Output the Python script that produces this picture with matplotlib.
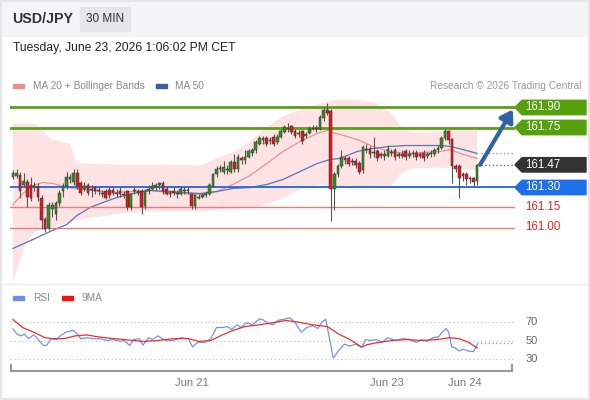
import matplotlib
matplotlib.use("Agg")
import matplotlib.pyplot as plt
from matplotlib.patches import Rectangle, Polygon
from matplotlib.transforms import blended_transform_factory

plt.rcParams['font.family'] = ['Liberation Sans', 'DejaVu Sans']

# 30 min candles, USD/JPY
opens = [161.38, 161.39, 161.39, 161.32, 161.34, 161.32, 161.30, 161.30, 161.22, 161.06,
         161.00, 161.14, 161.10, 161.18, 161.27, 161.31, 161.36, 161.34, 161.41, 161.33,
         161.29, 161.32, 161.29, 161.30, 161.28, 161.26, 161.27, 161.28, 161.28, 161.26,
         161.27, 161.25, 161.27, 161.15, 161.27, 161.27, 161.27, 161.16, 161.27, 161.29,
         161.30, 161.32, 161.33, 161.29, 161.26, 161.27, 161.26, 161.25, 161.27, 161.28,
         161.25, 161.16, 161.22, 161.23, 161.24, 161.25, 161.31, 161.40, 161.44, 161.42,
         161.44, 161.42, 161.49, 161.44, 161.52, 161.51, 161.53, 161.56, 161.58, 161.63,
         161.66, 161.67, 161.65, 161.68, 161.64, 161.68, 161.72, 161.74, 161.76, 161.72,
         161.70, 161.72, 161.69, 161.71, 161.74, 161.75, 161.74, 161.82, 161.88, 161.87,
         161.29, 161.40, 161.46, 161.52, 161.52, 161.50, 161.50, 161.48, 161.43, 161.58,
         161.59, 161.56, 161.57, 161.55, 161.54, 161.54, 161.57, 161.58, 161.54, 161.55,
         161.57, 161.54, 161.55, 161.56, 161.55, 161.56, 161.54, 161.55, 161.55, 161.58,
         161.60, 161.67, 161.72, 161.66, 161.46, 161.46, 161.40, 161.40, 161.37, 161.37,
         161.35]
highs = [161.43, 161.44, 161.42, 161.41, 161.36, 161.38, 161.34, 161.33, 161.24, 161.08,
         161.19, 161.19, 161.20, 161.28, 161.33, 161.42, 161.40, 161.44, 161.44, 161.35,
         161.34, 161.33, 161.32, 161.31, 161.30, 161.28, 161.29, 161.30, 161.30, 161.29,
         161.30, 161.27, 161.28, 161.26, 161.30, 161.29, 161.29, 161.29, 161.32, 161.34,
         161.33, 161.34, 161.35, 161.30, 161.28, 161.30, 161.28, 161.31, 161.30, 161.30,
         161.26, 161.25, 161.25, 161.26, 161.27, 161.33, 161.41, 161.46, 161.47, 161.50,
         161.47, 161.51, 161.55, 161.55, 161.54, 161.58, 161.59, 161.60, 161.66, 161.69,
         161.69, 161.69, 161.68, 161.70, 161.70, 161.74, 161.77, 161.78, 161.77, 161.74,
         161.73, 161.73, 161.72, 161.76, 161.77, 161.77, 161.84, 161.90, 161.93, 161.89,
         161.42, 161.48, 161.58, 161.54, 161.54, 161.52, 161.52, 161.50, 161.62, 161.63,
         161.61, 161.68, 161.59, 161.57, 161.58, 161.62, 161.59, 161.60, 161.57, 161.58,
         161.59, 161.58, 161.58, 161.58, 161.57, 161.58, 161.57, 161.58, 161.60, 161.62,
         161.69, 161.74, 161.73, 161.67, 161.48, 161.48, 161.42, 161.42, 161.39, 161.38,
         161.48]
lows = [161.36, 161.37, 161.22, 161.30, 161.15, 161.20, 161.27, 161.20, 160.99, 160.97,
        160.98, 161.08, 161.06, 161.16, 161.23, 161.29, 161.33, 161.32, 161.29, 161.24,
        161.27, 161.24, 161.23, 161.25, 161.24, 161.23, 161.21, 161.22, 161.24, 161.23,
        161.23, 161.22, 161.13, 161.13, 161.25, 161.24, 161.10, 161.14, 161.25, 161.28,
        161.28, 161.29, 161.25, 161.24, 161.23, 161.24, 161.22, 161.24, 161.25, 161.25,
        161.14, 161.14, 161.21, 161.22, 161.23, 161.24, 161.30, 161.38, 161.42, 161.40,
        161.40, 161.41, 161.42, 161.42, 161.48, 161.48, 161.52, 161.54, 161.56, 161.62,
        161.63, 161.61, 161.63, 161.61, 161.63, 161.67, 161.71, 161.72, 161.70, 161.67,
        161.68, 161.63, 161.67, 161.70, 161.73, 161.72, 161.73, 161.80, 161.84, 161.05,
        161.13, 161.38, 161.45, 161.48, 161.46, 161.47, 161.45, 161.40, 161.41, 161.56,
        161.52, 161.53, 161.50, 161.52, 161.51, 161.53, 161.54, 161.51, 161.52, 161.52,
        161.51, 161.52, 161.53, 161.51, 161.52, 161.50, 161.52, 161.53, 161.54, 161.56,
        161.59, 161.66, 161.63, 161.33, 161.42, 161.22, 161.35, 161.32, 161.33, 161.31,
        161.32]
closes = [161.41, 161.41, 161.27, 161.35, 161.23, 161.22, 161.31, 161.23, 161.06, 160.99,
          161.17, 161.17, 161.18, 161.26, 161.31, 161.38, 161.38, 161.41, 161.31, 161.26,
          161.31, 161.26, 161.28, 161.27, 161.27, 161.25, 161.22, 161.24, 161.26, 161.25,
          161.25, 161.24, 161.15, 161.25, 161.28, 161.26, 161.15, 161.27, 161.29, 161.31,
          161.32, 161.33, 161.27, 161.25, 161.25, 161.26, 161.25, 161.29, 161.28, 161.27,
          161.16, 161.24, 161.23, 161.24, 161.25, 161.32, 161.40, 161.44, 161.45, 161.45,
          161.43, 161.49, 161.44, 161.53, 161.51, 161.53, 161.57, 161.58, 161.64, 161.67,
          161.67, 161.63, 161.66, 161.63, 161.68, 161.72, 161.75, 161.75, 161.72, 161.69,
          161.71, 161.65, 161.70, 161.74, 161.75, 161.74, 161.83, 161.88, 161.86, 161.29,
          161.40, 161.46, 161.53, 161.51, 161.48, 161.49, 161.47, 161.42, 161.60, 161.59,
          161.55, 161.57, 161.52, 161.54, 161.55, 161.59, 161.56, 161.53, 161.55, 161.54,
          161.53, 161.55, 161.56, 161.53, 161.54, 161.52, 161.55, 161.56, 161.58, 161.60,
          161.67, 161.72, 161.66, 161.46, 161.44, 161.37, 161.39, 161.36, 161.36, 161.34,
          161.47]

# indicators (x in candle index)
bb_up_x = [0, 6.2, 8.1, 10.4, 13.2, 16, 17.4, 18.8, 30, 41.2, 52.4, 55.2, 58, 62.2, 66.4,
           70.6, 75.6, 80.4, 85.2, 89.6, 93, 97.2, 101.4, 105.6, 108.4, 111.2, 115.4, 119.6,
           124.4, 130]
bb_up = [161.78, 161.78, 161.735, 161.668, 161.645, 161.63, 161.51, 161.48, 161.472, 161.472,
         161.465, 161.495, 161.533, 161.57, 161.645, 161.743, 161.833, 161.885, 161.923, 161.953,
         161.96, 161.953, 161.938, 161.87, 161.765, 161.72, 161.713, 161.72, 161.735, 161.735]
bb_lo_x = [0, 2, 3.9, 6.2, 10.4, 14.6, 18.8, 24.4, 30, 35.6, 44, 52.4, 58, 63.6, 69.2, 74.8,
           80.4, 86, 90.2, 94.4, 100, 105.6, 108.4, 111.2, 119.6, 125.2, 130]
bb_lo = [160.595, 160.76, 160.895, 160.97, 161.0, 161.03, 161.06, 161.083, 161.105, 161.12,
         161.12, 161.12, 161.135, 161.143, 161.158, 161.21, 161.285, 161.323, 161.308, 161.293,
         161.293, 161.30, 161.40, 161.44, 161.45, 161.44, 161.43]
ma20_x = [0, 2.8, 5.6, 8.4, 11.2, 15.1, 19.6, 24.4, 29.1, 33.6, 38.4, 43.1, 47.6, 52.4, 57.1,
          61.6, 66.4, 71.1, 75.6, 80.4, 85.2, 88.8, 89.1, 91.6, 96.4, 100.8, 105.6, 110.4,
          114.8, 119.6, 122.4, 126, 130]
ma20 = [161.173, 161.255, 161.315, 161.338, 161.33, 161.30, 161.285, 161.27, 161.263, 161.27,
        161.278, 161.263, 161.255, 161.248, 161.27, 161.323, 161.39, 161.48, 161.57, 161.645,
        161.705, 161.735, 161.713, 161.698, 161.66, 161.608, 161.57, 161.555, 161.563, 161.57,
        161.585, 161.548, 161.518]
ma50_x = [0, 5.6, 10.4, 15.1, 17.9, 21.6, 24.4, 29.1, 33.6, 38.4, 43.1, 47.6, 52.4, 57.1,
          61.6, 66.4, 71.1, 75.6, 80.4, 85.2, 88.8, 91.6, 96.4, 100.8, 105.6, 110.4, 114.8,
          119.6, 122.4, 126, 130]
ma50 = [160.843, 160.91, 160.97, 161.023, 161.09, 161.15, 161.18, 161.225, 161.255, 161.278,
        161.27, 161.263, 161.255, 161.27, 161.293, 161.30, 161.323, 161.36, 161.42, 161.48,
        161.51, 161.518, 161.57, 161.593, 161.608, 161.615, 161.615, 161.615, 161.608, 161.585,
        161.555]

rsi_x = [0, 1.1, 2.2, 3.2, 4.3, 5.8, 6.9, 8.5, 9.5, 10.6, 12.2, 13.2, 14.8, 16.9, 18, 19,
         20.6, 22.2, 24.3, 26.4, 28, 30.1, 31.1, 32.7, 33.8, 35.4, 36.4, 38, 39, 40.6, 42.2,
         43.3, 44.9, 47, 49.1, 50.3, 51.7, 53.8, 55.4, 57, 58.6, 60.1, 61.2, 62.8, 63.8, 65.4,
         67, 69.1, 70.2, 71.2, 72.8, 74.4, 76, 77.5, 79.1, 80.7, 82.3, 83.9, 85.4, 86.5, 87.6,
         89.7, 91.2, 92.8, 94.4, 96, 97.6, 98.8, 100.2, 101.8, 103.4, 104.9, 107.1, 109.2,
         111.3, 112.9, 114.4, 116, 117.6, 119.2, 120.2, 121.3, 122, 122.9, 123.9, 125, 126,
         127.6, 129, 130]
rsi = [62.6, 57, 55, 57, 52, 56, 52, 44.6, 45, 51.8, 51, 55, 59, 61, 57, 51.8,
       53, 52, 52, 50, 51, 49, 50, 44.6, 51, 52, 45, 53, 51, 55, 51,
       50, 50, 53, 52, 43, 48, 48, 52, 64, 64, 65, 62, 67, 64, 69,
       67, 73.4, 72, 69, 67, 72, 73, 74.5, 69, 59, 64, 66, 63, 70, 73,
       31, 39, 46, 44, 46, 42.6, 51, 50, 51, 48, 53, 50, 52,
       51, 48, 51, 49, 53, 54, 59, 63, 59, 43, 42, 38.6, 40.6,
       38.6, 38, 46]
ma9_x = [0, 2.7, 5.8, 9, 11.1, 14.3, 17.4, 20.6, 23.8, 26.9, 31.1, 36.4, 40.6, 44.9, 49.1,
         52.2, 55.4, 58.6, 61.7, 64.9, 69.1, 72.3, 76.5, 79.6, 83.9, 88.1, 91.2, 94.4, 97.6,
         99.2, 101.8, 106, 110.2, 114.4, 118.7, 122.3, 125, 127.6, 130]
ma9 = [72.7, 64, 59, 53, 52, 52, 55, 56, 54, 52.5, 51, 49, 50, 52, 52,
       49, 50, 56, 61, 65, 67, 69, 71.6, 70, 67, 65, 57, 51, 43,
       45.5, 47.5, 50, 51, 50, 51, 53, 52, 48, 42]

resistances = [161.90, 161.75]
pivot = 161.30
supports = [161.15, 161.00]
last_price = 161.47
date_labels = ["Jun 21", "Jun 23", "Jun 24"]
date_pos = [50.1, 104.8, 126.6]

W, H = 590, 400
fig = plt.figure(figsize=(W / 100, H / 100), dpi=100)


def fx(px):
    return px / W


def fy(py):
    return 1 - py / H


# header + frame
fig.patches.append(Rectangle((0, fy(36)), 1, 36 / H, transform=fig.transFigure,
                             color='#f4f5f7', zorder=0))
fig.patches.append(Rectangle((fx(80), fy(31)), 50 / W, 24 / H, transform=fig.transFigure,
                             color='#e5e6e9', zorder=1))
fig.patches.append(Rectangle((0, 0), 1, 1, transform=fig.transFigure, fill=False,
                             edgecolor='#e4e6e9', lw=3, zorder=5))
fig.text(fx(12), fy(19), "USD/JPY", fontsize=10.3, fontweight='bold', color='#333333', va='center')
fig.text(fx(105), fy(19), "30 MIN", fontsize=8.5, color='#333333', va='center', ha='center')
fig.text(fx(13), fy(48), "Tuesday, June 23, 2026 1:06:02 PM CET", fontsize=8.7,
         color='#222222', va='center')

# legends
fig.patches.append(Rectangle((fx(13), fy(88)), 11 / W, 4 / H, transform=fig.transFigure,
                             color='#f38c8c'))
fig.text(fx(33), fy(86), "MA 20 + Bollinger Bands", fontsize=7.3, color='#888888', va='center')
fig.patches.append(Rectangle((fx(156), fy(88)), 11 / W, 4 / H, transform=fig.transFigure,
                             color='#3a5f9e'))
fig.text(fx(175), fy(86), "MA 50", fontsize=7.3, color='#888888', va='center')
fig.text(fx(581), fy(86), "Research \u00a9 2026 Trading Central", fontsize=7.3,
         color='#999999', va='center', ha='right')

fig.patches.append(Rectangle((fx(13), fy(300)), 11 / W, 4 / H, transform=fig.transFigure,
                             color='#6a8de6'))
fig.text(fx(33), fy(298), "RSI", fontsize=7.3, color='#888888', va='center')
fig.patches.append(Rectangle((fx(62), fy(300)), 11 / W, 4 / H, transform=fig.transFigure,
                             color='#ee1111'))
fig.text(fx(82), fy(298), "9MA", fontsize=7.3, color='#888888', va='center')

fig.add_artist(plt.Line2D([0, 1], [fy(284), fy(284)], transform=fig.transFigure,
                          color='#eeeeee', lw=1))

# price panel
xmin, xmax = -0.84, 140.6
ax = fig.add_axes([fx(10), fy(284.5), 505 / W, 188 / H])
ax.set_xlim(xmin, xmax)
ax.set_ylim(160.5725, 161.9825)
ax.axis('off')

ax.fill(bb_up_x + bb_lo_x[::-1], bb_up + bb_lo[::-1], color='#fde3e3', lw=0, zorder=1)
ax.plot(ma20_x, ma20, color='#f29090', lw=0.9, zorder=2)
ax.plot(ma50_x, ma50, color='#5577b2', lw=0.9, zorder=2)

for lvl in resistances:
    ax.axhline(lvl, color='#5aa01a', lw=2, zorder=3)
ax.axhline(pivot, color='#2f6fe2', lw=1.4, zorder=3)
for lvl in supports:
    ax.axhline(lvl, color='#f07a7a', lw=1, zorder=3)

for i in range(len(closes)):
    o, h, l, c = opens[i], highs[i], lows[i], closes[i]
    col = '#3a8a28' if c >= o else '#e0191e'
    ax.vlines(i, l, h, color='#555555', lw=0.8, zorder=4)
    bot = min(o, c)
    hgt = max(abs(c - o), 0.006)
    ax.bar(i, hgt, bottom=bot, width=0.75, color=col, edgecolor='#333333', lw=0.35, zorder=5)

n = len(closes)
ax.plot([n, xmax], [ma50[-1], ma50[-1]], color='#888888', lw=0.9, ls=(0, (1, 2)), zorder=3)
ax.plot([n, xmax], [last_price, last_price], color='#555555', lw=0.9, ls=(0, (1, 2)), zorder=3)

ax.annotate("", xy=(140.0, 161.885), xytext=(130.8, 161.47),
            arrowprops=dict(arrowstyle='-|>,head_length=0.7,head_width=0.45',
                            color='#2f62a8', lw=3, shrinkA=0, shrinkB=0), zorder=6)

tr = blended_transform_factory(ax.transAxes, ax.transData)
hh = 0.054
tip, left, right = 1.0, 1.0139, 1.1406


def tag(level, color, txt_color='white'):
    ax.add_patch(Polygon([[tip, level], [left, level + hh], [right, level + hh],
                          [right, level - hh], [left, level - hh]], closed=True,
                         transform=tr, color=color, clip_on=False, zorder=7))
    ax.text(1.02, level, "%.2f" % level, transform=tr, color=txt_color, fontsize=8.3,
            va='center', ha='left', clip_on=False, zorder=8)


for lvl in resistances:
    tag(lvl, '#55a00c')
tag(last_price, '#333333')
tag(pivot, '#1f6fe8')
for lvl in supports:
    ax.text(1.02, lvl, "%.2f" % lvl, transform=tr, color='#e8242a', fontsize=8.3,
            va='center', ha='left', clip_on=False)

# RSI panel
rax = fig.add_axes([fx(10), fy(370.5), 505 / W, 60 / H])
rax.set_xlim(xmin, xmax)
rax.set_ylim(17.57, 82.43)
rax.axis('off')
for lvl in [70, 50, 30]:
    rax.axhline(lvl, color='#bbbbbb', lw=0.8, ls=(0, (1, 2.5)))
    rax.text(1.02, lvl, str(lvl), transform=blended_transform_factory(rax.transAxes, rax.transData),
             fontsize=8, color='#666666', va='center', clip_on=False)
rax.plot(rsi_x, rsi, color='#7393ea', lw=0.9, zorder=3)
rax.plot(ma9_x, ma9, color='#e83030', lw=0.9, zorder=4)
rax.plot([130, xmax], [rsi[-1] + 0.8, rsi[-1] + 0.8], color='#7393ea', lw=0.9,
         ls=(0, (1, 2)), zorder=3)

rtr = blended_transform_factory(rax.transData, rax.transAxes)
ax_l, ax_r = -0.56, 139.8
rax.plot([ax_l, ax_r], [0, 0], transform=rtr, color='#999999', lw=1.5, clip_on=False)
rax.plot([ax_l, ax_l], [0, 0.09], transform=rtr, color='#999999', lw=1.5, clip_on=False)
rax.plot([ax_r, ax_r], [0, 0.09], transform=rtr, color='#999999', lw=1.5, clip_on=False)
for lab, pos in zip(date_labels, date_pos):
    rax.text(pos, -0.2, lab, transform=rtr, fontsize=8, color='#777777',
             ha='center', va='center', clip_on=False)

fig.savefig("out.png", dpi=100)
